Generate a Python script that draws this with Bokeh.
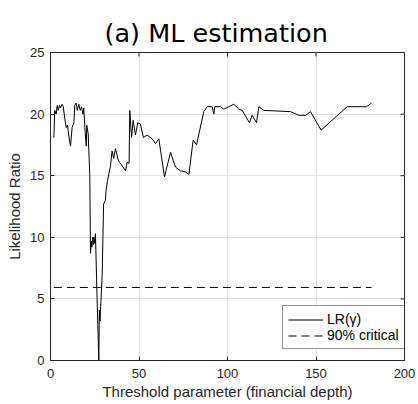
import math
from bokeh.plotting import figure
from bokeh.models import Range1d, Legend, LegendItem, FixedTicker
from bokeh.embed import file_html
from bokeh.resources import INLINE

# Data
threshold = [1.9, 2.4, 3.2, 3.8, 4.3, 5.1, 5.6, 6.6, 7.2, 8.1, 8.9, 9.6, 10.3, 11.3,
             12.2, 13.2, 13.7, 14.5, 15.1, 16.0, 16.8, 17.5, 18.3, 18.8, 19.4, 20.2,
             20.5, 21.3, 22.2, 22.6, 23.0, 23.4, 23.8, 24.2, 24.5, 25.0, 25.4, 26.3,
             27.3, 27.6, 28.0, 28.5, 29.2, 29.4, 30.0, 31.0, 31.4, 32.2, 33.9, 34.8,
             35.7, 36.7, 38.4, 40.5, 42.4, 43.3, 44.4, 44.8, 45.8, 46.7, 48.0, 49.3,
             50.8, 52.5, 54.6, 57.4, 59.3, 61.2, 64.4, 67.8, 70.6, 73.4, 76.3, 78.2,
             80.6, 82.5, 86.6, 88.5, 91.3, 92.3, 92.8, 96.0, 97.9, 103.6, 106.4, 108.3,
             112.4, 113.9, 116.4, 117.7, 120.5, 135.6, 140.3, 144.1, 146.9, 152.9,
             167.6, 178.5, 181.4]
lr_stat = [18.1, 20.3, 20.0, 20.7, 20.3, 20.7, 20.5, 20.8, 20.6, 19.6, 18.9, 19.1, 18.3, 17.4,
           18.9, 19.3, 20.7, 20.9, 20.3, 20.8, 20.3, 20.6, 20.0, 20.5, 18.9, 17.4,
           19.1, 18.4, 15.0, 8.7, 9.7, 9.2, 10.0, 9.4, 10.0, 9.5, 10.3, 5.1,
           0.0, 4.1, 3.2, 4.8, 7.0, 8.4, 12.7, 13.0, 13.8, 14.6, 15.8, 17.0,
           16.4, 17.2, 16.2, 15.8, 15.4, 16.1, 16.0, 20.3, 18.1, 19.5, 18.3, 19.3,
           19.2, 18.1, 18.3, 18.0, 17.6, 18.0, 14.9, 16.9, 15.7, 15.4, 15.3, 15.1,
           17.9, 17.5, 20.2, 20.6, 20.6, 20.0, 20.6, 20.6, 20.4, 20.8, 20.4, 20.3,
           19.3, 19.9, 19.3, 20.6, 20.3, 20.2, 19.9, 19.9, 20.2, 18.7,
           20.6, 20.6, 20.9]
critical_value = 5.93
critical_x = [1.9, 181.4]
x_ticks = [0, 50, 100, 150, 200]
y_ticks = [0, 5, 10, 15, 20, 25]
x_max = 200
y_max = 25

DARK = "#262626"

p = figure(frame_width=354, frame_height=308,
           x_range=Range1d(0, x_max), y_range=Range1d(0, y_max),
           output_backend="svg", toolbar_location=None,
           min_border_left=50, min_border_right=13, min_border_top=52, min_border_bottom=43,
           title="(a) ML estimation")

p.title.text_font = "DejaVu Sans"
p.title.text_font_size = "25.5px"
p.title.text_font_style = "normal"
p.title.text_color = "#000000"
p.title.align = "left"
p.title.offset = 54
p.title.standoff = 9

p.outline_line_color = DARK
p.outline_line_width = 1
p.background_fill_color = "white"
p.border_fill_color = "white"

for ax in (p.xaxis[0], p.yaxis[0]):
    ax.axis_line_color = DARK
    ax.major_tick_line_color = DARK
    ax.major_tick_in = 4
    ax.major_tick_out = 0
    ax.minor_tick_line_color = None
    ax.major_label_text_font = "Liberation Sans"
    ax.major_label_text_font_size = "13px"
    ax.major_label_text_color = DARK
    ax.axis_label_text_font = "Liberation Sans"
    ax.axis_label_text_font_size = "15px"
    ax.axis_label_text_font_style = "normal"
    ax.axis_label_text_color = DARK

p.xaxis[0].ticker = FixedTicker(ticks=x_ticks)
p.yaxis[0].ticker = FixedTicker(ticks=y_ticks)
p.xaxis[0].axis_label = "Threshold parameter (financial depth)"
p.yaxis[0].axis_label = "Likelihood Ratio"
p.xaxis[0].major_label_standoff = 8
p.xaxis[0].axis_label_standoff = 2
p.yaxis[0].major_label_standoff = 6
p.yaxis[0].axis_label_standoff = 4

# inward tick marks on the top and right edges of the box (half clipped by the frame)
p.scatter(x_ticks, [y_max] * len(x_ticks), marker="dash", size=8, angle=math.pi / 2,
          line_color=DARK, line_width=1)
p.scatter([x_max] * len(y_ticks), y_ticks, marker="dash", size=8,
          line_color=DARK, line_width=1)

p.xgrid.ticker = FixedTicker(ticks=x_ticks)
p.ygrid.ticker = FixedTicker(ticks=y_ticks)
p.grid.grid_line_color = "#e3e3e3"
p.grid.grid_line_width = 1

r1 = p.line(threshold, lr_stat, line_color="black", line_width=1)
r2 = p.line(critical_x, [critical_value, critical_value], line_color="black",
            line_width=1, line_dash="8 5")

legend = Legend(items=[LegendItem(label="LR(γ)", renderers=[r1]),
                       LegendItem(label="90% critical", renderers=[r2])])
legend.location = (232, 11)
legend.margin = 0
legend.padding = 5
legend.spacing = 0
legend.glyph_width = 35
legend.glyph_height = 13
legend.label_height = 13
legend.label_standoff = 4
legend.label_text_font = "Liberation Sans"
legend.label_text_font_size = "14px"
legend.label_text_color = "#000000"
legend.border_line_color = DARK
legend.border_line_width = 1
legend.background_fill_color = "white"
legend.background_fill_alpha = 1.0
p.add_layout(legend)

open("out.html", "w").write(file_html(p, INLINE))
